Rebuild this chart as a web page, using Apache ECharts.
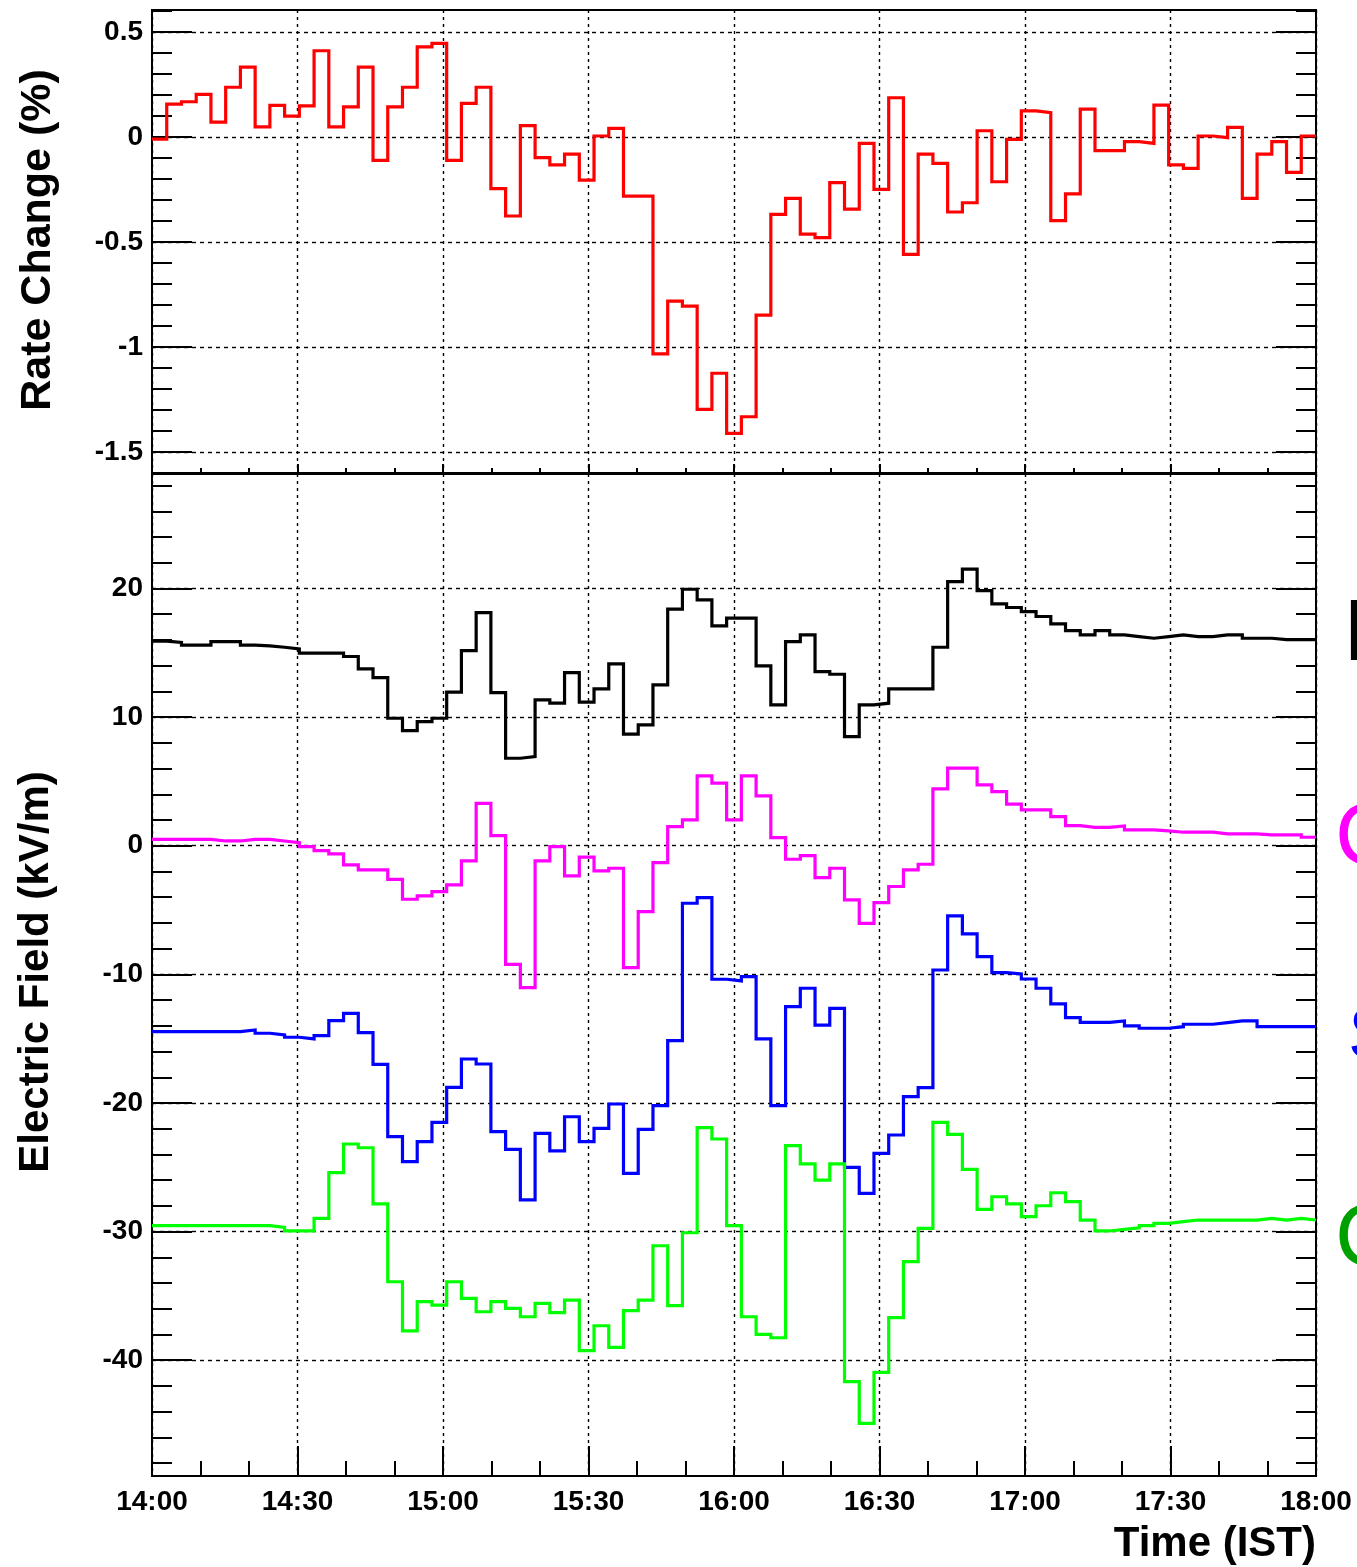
<!DOCTYPE html>
<html>
<head>
<meta charset="utf-8">
<script src="https://cdn.jsdelivr.net/npm/echarts@6/dist/echarts.min.js"></script>
<style>
  html, body { margin: 0; padding: 0; background: #ffffff; }
  #chart { width: 1357px; height: 1567px; }
</style>
</head>
<body>
<div id="chart"></div>
<script>
// Time axis: minutes after 14:00, labelled every 30 minutes
const timeLabels = ['14:00', '14:30', '15:00', '15:30', '16:00', '16:30', '17:00', '17:30', '18:00'];

// Axis tick values
const rateTicks = [-1.5, -1, -0.5, 0, 0.5];
const rateMinorTicks = [-1.6, -1.5, -1.4, -1.3, -1.2, -1.1, -1.0, -0.9, -0.8, -0.7, -0.6, -0.5,
  -0.4, -0.3, -0.2, -0.1, 0, 0.1, 0.2, 0.3, 0.4, 0.5, 0.6];
const fieldTicks = [-40, -30, -20, -10, 0, 10, 20];
const fieldMinorTicks = [-48, -46, -44, -42, -40, -38, -36, -34, -32, -30, -28, -26, -24, -22, -20,
  -18, -16, -14, -12, -10, -8, -6, -4, -2, 0, 2, 4, 6, 8, 10, 12, 14, 16, 18, 20, 22, 24, 26, 28];

// Muon rate change (%) per time bin
const rateChange = [
  -0.01, 0.157, 0.168, 0.203, 0.071, 0.237, 0.333, 0.048, 0.151, 0.10,
  0.148, 0.411, 0.048, 0.144, 0.333, -0.111, 0.144, 0.237, 0.429, 0.446,
  -0.111, 0.16, 0.237, -0.246, -0.376, 0.054, -0.098, -0.133, -0.081, -0.205,
  0.005, 0.041, -0.281, -0.281, -1.033, -0.781, -0.805, -1.297, -1.125, -1.411,
  -1.332, -0.848, -0.368, -0.292, -0.462, -0.479, -0.217, -0.343, -0.03, -0.249,
  0.187, -0.559, -0.081, -0.125, -0.357, -0.313, 0.03, -0.213, -0.011, 0.125,
  0.116, -0.398, -0.271, 0.133, -0.065, -0.065, -0.022, -0.03, 0.152, -0.133,
  -0.149, 0.005, -0.003, 0.046, -0.292, -0.081, -0.022, -0.168, 0.005
];

// Electric field (kV/m) per time bin, one array per field mill
const fieldBlack = [
  15.9, 15.8, 15.59, 15.59, 15.87, 15.87, 15.59, 15.54, 15.43, 15.3,
  14.97, 14.97, 14.97, 14.71, 13.75, 13.07, 9.91, 8.95, 9.65, 9.91,
  11.94, 15.17, 18.13, 11.91, 6.8, 6.93, 11.34, 11.08, 13.46, 11.16,
  12.19, 14.14, 8.67, 9.39, 12.5, 18.39, 19.94, 19.11, 17.09, 17.69,
  17.69, 13.98, 10.95, 15.87, 16.39, 13.54, 13.33, 8.48, 10.95, 11.08,
  12.19, 12.19, 12.19, 15.43, 20.54, 21.5, 19.84, 18.8, 18.52, 18.2,
  17.82, 17.25, 16.73, 16.39, 16.73, 16.39, 16.26, 16.13, 16.26, 16.39,
  16.26, 16.26, 16.39, 16.39, 16.13, 16.13, 16.03, 16.03, 16.03
];
const fieldMagenta = [
  0.5, 0.5, 0.5, 0.5, 0.37, 0.37, 0.5, 0.5, 0.37, 0.24,
  -0.07, -0.38, -0.64, -1.49, -1.88, -1.88, -2.61, -4.16, -3.9, -3.57,
  -3.05, -1.18, 3.3, 0.79, -9.22, -11.03, -1.18, -0.07, -2.35, -0.89,
  -1.96, -1.75, -9.48, -5.12, -1.31, 1.49, 2.01, 5.43, 4.86, 2.01,
  5.43, 3.87, 0.63, -1.05, -0.77, -2.48, -1.75, -4.21, -6.03, -4.42,
  -3.17, -1.88, -1.44, 4.42, 6.03, 6.03, 4.73, 4.21, 3.23, 2.78,
  2.78, 2.26, 1.56, 1.43, 1.43, 1.54, 1.23, 1.23, 1.15, 1.05,
  1.05, 1.05, 0.92, 0.92, 0.92, 0.84, 0.84, 0.84, 0.66
];
const fieldBlue = [
  -14.45, -14.45, -14.45, -14.45, -14.45, -14.45, -14.32, -14.58, -14.71, -14.89,
  -15.02, -14.77, -13.6, -13.03, -14.53, -17.0, -22.62, -24.56, -23.01, -21.5,
  -18.78, -16.58, -16.97, -22.23, -23.6, -27.54, -22.36, -23.73, -21.07, -23.01,
  -21.97, -20.08, -25.47, -22.05, -20.21, -15.15, -4.47, -4.03, -10.38, -10.51,
  -10.18, -15.02, -20.21, -12.51, -11.08, -13.94, -12.64, -25.0, -27.02, -23.91,
  -22.49, -19.51, -18.81, -9.66, -5.46, -6.86, -8.62, -9.87, -9.97, -10.36,
  -11.08, -12.3, -13.37, -13.73, -13.73, -13.62, -14.01, -14.19, -14.19, -14.07,
  -13.88, -13.88, -13.75, -13.62, -13.62, -14.07, -14.07, -14.07, -14.07
];
const fieldGreen = [
  -29.54, -29.54, -29.54, -29.54, -29.54, -29.54, -29.54, -29.54, -29.67, -29.95,
  -29.95, -28.97, -25.42, -23.19, -23.48, -27.85, -33.9, -37.71, -35.45, -35.71,
  -33.9, -35.19, -36.23, -35.45, -35.97, -36.62, -35.58, -36.3, -35.32, -39.26,
  -37.32, -39.0, -36.15, -35.32, -31.1, -35.76, -30.09, -21.92, -22.8, -29.54,
  -36.62, -37.99, -38.25, -23.32, -24.74, -25.99, -24.74, -41.67, -44.91, -40.94,
  -36.69, -32.34, -29.75, -21.5, -22.44, -25.16, -28.27, -27.29, -27.85, -28.84,
  -27.99, -26.98, -27.67, -29.1, -29.95, -29.82, -29.7, -29.54, -29.36, -29.23,
  -29.1, -29.1, -29.1, -29.1, -29.1, -28.97, -29.1, -28.97, -29.1
];

const SPAN_MIN = 240; // 14:00 -> 18:00

// Turn bin contents into the outline of a step histogram
function histOutline(values) {
  const w = SPAN_MIN / values.length;
  const pts = [];
  values.forEach((v, i) => {
    pts.push([i * w, v], [(i + 1) * w, v]);
  });
  return pts;
}

const FONT = '"Liberation Sans", Arial, Helvetica, sans-serif';
const tickStyle = { color: '#000', width: 2 };
const gridDash = { color: '#000', width: 1.4, type: [4, 4] };

function xAxisFor(gridIndex, showLabels, majorLen, minorLen) {
  return {
    type: 'value', gridIndex, min: 0, max: SPAN_MIN, interval: 30, position: 'bottom',
    axisLine: { show: false, onZero: false },
    axisTick: { show: true, inside: true, length: majorLen, lineStyle: tickStyle },
    minorTick: { show: true, splitNumber: 3, length: minorLen, lineStyle: tickStyle },
    axisLabel: {
      show: showLabels, margin: 12, color: '#000', fontFamily: FONT, fontWeight: 'bold', fontSize: 28,
      formatter: v => timeLabels[Math.round(v / 30)]
    },
    splitLine: { show: true, lineStyle: { color: '#000', width: 1.4, type: [3, 4] } },
    minorSplitLine: { show: false }
  };
}

function yAxisFor(gridIndex, min, max, ticks, position, isMajor, withLabels) {
  return {
    type: 'value', gridIndex, min, max, position,
    axisLine: { show: false, onZero: false },
    axisTick: { show: true, inside: true, length: isMajor ? 40 : 20, lineStyle: tickStyle, customValues: ticks },
    axisLabel: {
      show: withLabels, customValues: ticks, margin: 9, color: '#000',
      fontFamily: FONT, fontWeight: 'bold', fontSize: 28
    },
    splitLine: { show: withLabels, lineStyle: gridDash },
    minorTick: { show: false }
  };
}

const RATE_MIN = -1.6, RATE_MAX = 0.605;
const FIELD_MIN = -49, FIELD_MAX = 28.9;

function lineSeries(name, data, color, xi, yi) {
  return {
    name, type: 'line', xAxisIndex: xi, yAxisIndex: yi,
    data: histOutline(data), showSymbol: false, symbol: 'none', silent: true,
    clip: true, animation: false,
    lineStyle: { color, width: 3.2, join: 'miter', cap: 'butt' }
  };
}

const chart = echarts.init(document.getElementById('chart'), null, { renderer: 'canvas' });

chart.setOption({
  backgroundColor: '#ffffff',
  animation: false,
  grid: [
    { left: 152, top: 10, width: 1164, height: 463, show: true, borderColor: '#000', borderWidth: 2,
      backgroundColor: 'transparent', outerBoundsMode: 'none' },
    { left: 152, top: 474, width: 1164, height: 1002, show: true, borderColor: '#000', borderWidth: 2,
      backgroundColor: 'transparent', outerBoundsMode: 'none' }
  ],
  xAxis: [
    xAxisFor(0, false, 9, 5),
    xAxisFor(1, true, 30, 15)
  ],
  yAxis: [
    yAxisFor(0, RATE_MIN, RATE_MAX, rateTicks, 'left', true, true),
    yAxisFor(0, RATE_MIN, RATE_MAX, rateMinorTicks, 'left', false, false),
    yAxisFor(0, RATE_MIN, RATE_MAX, rateTicks, 'right', true, false),
    yAxisFor(0, RATE_MIN, RATE_MAX, rateMinorTicks, 'right', false, false),
    yAxisFor(1, FIELD_MIN, FIELD_MAX, fieldTicks, 'left', true, true),
    yAxisFor(1, FIELD_MIN, FIELD_MAX, fieldMinorTicks, 'left', false, false),
    yAxisFor(1, FIELD_MIN, FIELD_MAX, fieldTicks, 'right', true, false),
    yAxisFor(1, FIELD_MIN, FIELD_MAX, fieldMinorTicks, 'right', false, false)
  ],
  series: [
    lineSeries('Rate Change', rateChange, '#ff0000', 0, 0),
    lineSeries('L', fieldBlack, '#000000', 1, 4),
    lineSeries('C', fieldMagenta, '#ff00ff', 1, 4),
    lineSeries('S', fieldBlue, '#0000ff', 1, 4),
    lineSeries('C2', fieldGreen, '#00ff00', 1, 4)
  ],
  graphic: [
    { type: 'text', x: 38, y: 240, rotation: Math.PI / 2, silent: true,
      style: { text: 'Rate Change (%)', fill: '#000', font: 'bold 43px ' + FONT, align: 'center', verticalAlign: 'middle' } },
    { type: 'text', x: 36, y: 972, rotation: Math.PI / 2, silent: true,
      style: { text: 'Electric Field (kV/m)', fill: '#000', font: 'bold 42px ' + FONT, align: 'center', verticalAlign: 'middle' } },
    { type: 'text', x: 1316, y: 1544, silent: true,
      style: { text: 'Time (IST)', fill: '#000', font: 'bold 42px ' + FONT, align: 'right', verticalAlign: 'middle' } },
    // Series tags at the right margin
    { type: 'text', x: 1345, y: 636, silent: true,
      style: { text: 'L', fill: '#000000', font: 'bold 88px ' + FONT, align: 'left', verticalAlign: 'middle' } },
    { type: 'text', x: 1335, y: 840, silent: true,
      style: { text: 'C', fill: '#ff00ff', font: '88px ' + FONT, align: 'left', verticalAlign: 'middle' } },
    { type: 'text', x: 1348, y: 1039, silent: true,
      style: { text: 'S', fill: '#0000ff', font: '74px ' + FONT, align: 'left', verticalAlign: 'middle' } },
    { type: 'text', x: 1335, y: 1241, silent: true,
      style: { text: 'C', fill: '#00a000', font: '88px ' + FONT, align: 'left', verticalAlign: 'middle' } }
  ]
});
</script>
</body>
</html>
